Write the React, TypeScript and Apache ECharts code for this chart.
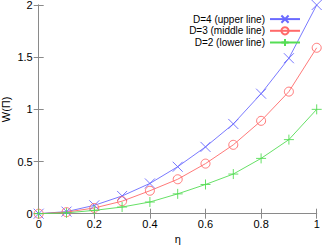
import React, { useEffect, useRef } from "react";
import * as echarts from "echarts";

const eta = [0, 0.1, 0.2, 0.3, 0.4, 0.5, 0.6, 0.7, 0.8, 0.9, 1.0];
const d4 = [0, 0.02, 0.08, 0.17, 0.29, 0.45, 0.64, 0.86, 1.15, 1.49, 2.0];
const d3 = [0, 0.015, 0.055, 0.12, 0.22, 0.33, 0.48, 0.66, 0.89, 1.17, 1.59];
const d2 = [0, 0.008, 0.032, 0.064, 0.112, 0.19, 0.28, 0.38, 0.53, 0.71, 1.0];
const seriesNames = ["D=4 (upper line)", "D=3 (middle line)", "D=2 (lower line)"];
const xTicks = [0, 0.2, 0.4, 0.6, 0.8, 1];
const yTicks = [0, 0.5, 1, 1.5, 2];

const FONT = "Liberation Sans";
const AXIS_GRAY = "#8a8a8a";

export default function App() {
  const ref = useRef<HTMLDivElement>(null);
  useEffect(() => {
    const chart = echarts.init(ref.current!, null, { renderer: "svg" });
    const pairs = (ys: number[]) => ys.map((v, i) => [eta[i], v]);
    const axisCommon = {
      type: "value" as const,
      axisLine: { show: true, lineStyle: { color: AXIS_GRAY, width: 1 } },
      axisTick: { show: true, inside: true, length: 5, lineStyle: { color: AXIS_GRAY } },
      splitLine: { show: false },
    };
    const mk = (name: string, ys: number[], color: string, symbol: string, size: number) => ({
      name,
      type: "line",
      data: pairs(ys),
      symbol,
      symbolSize: size,
      showSymbol: true,
      clip: false,
      lineStyle: { color, width: 0.9 },
      itemStyle: { color: "none", borderColor: color, borderWidth: 0.9 },
      emphasis: { disabled: true },
      z: 3,
    });
    chart.setOption({
      animation: false,
      textStyle: { fontFamily: FONT },
      grid: {
        left: 38.7,
        right: 5.3,
        top: 5,
        bottom: 31.3,
        containLabel: false,
        outerBoundsMode: "none",
      },
      legend: {
        orient: "vertical",
        right: 16,
        top: 8,
        align: "right",
        itemWidth: 30,
        itemHeight: 9,
        itemGap: -0.5,
        textStyle: { fontFamily: FONT, fontSize: 10, color: "#000" },
        data: seriesNames,
      },
      xAxis: [
        {
          ...axisCommon,
          min: 0,
          max: 1,
          interval: 0.2,
          position: "bottom",
          name: "η",
          nameLocation: "middle",
          nameGap: 20,
          nameMoveOverlap: false,
          nameTextStyle: { fontFamily: FONT, fontSize: 11, color: "#000" },
          axisLabel: {
            fontFamily: FONT,
            fontSize: 11,
            color: "#000",
            margin: 5,
            formatter: (v: number) => {
              const t = xTicks.find((k) => Math.abs(k - v) < 1e-9);
              return t === undefined ? "" : String(t);
            },
          },
        },
        {
          ...axisCommon,
          min: 0,
          max: 1,
          interval: 0.2,
          position: "top",
          axisLabel: { show: false },
        },
      ],
      yAxis: [
        {
          ...axisCommon,
          min: 0,
          max: 2,
          interval: 0.5,
          position: "left",
          name: "W(Π)",
          nameLocation: "middle",
          nameGap: 27,
          nameRotate: 90,
          nameMoveOverlap: false,
          nameTextStyle: { fontFamily: FONT, fontSize: 11, color: "#000" },
          axisLabel: {
            fontFamily: FONT,
            fontSize: 11,
            color: "#000",
            margin: 6,
            formatter: (v: number) => {
              const t = yTicks.find((k) => Math.abs(k - v) < 1e-9);
              return t === undefined ? "" : String(t);
            },
          },
        },
        {
          ...axisCommon,
          min: 0,
          max: 2,
          interval: 0.5,
          position: "right",
          axisLabel: { show: false },
        },
      ],
      series: [
        mk(seriesNames[0], d4, "#6a6aff", "path://M0,0L10,10M10,0L0,10", 10),
        mk(seriesNames[1], d3, "#ff6a6a", "circle", 9),
        mk(seriesNames[2], d2, "#55dd55", "path://M5,0L5,10M0,5L10,5", 10),
      ],
    });
    return () => chart.dispose();
  }, []);
  return (
    <div
      ref={ref}
      style={{ position: "fixed", left: 0, top: 0, width: 322, height: 245, background: "#fff" }}
    />
  );
}
